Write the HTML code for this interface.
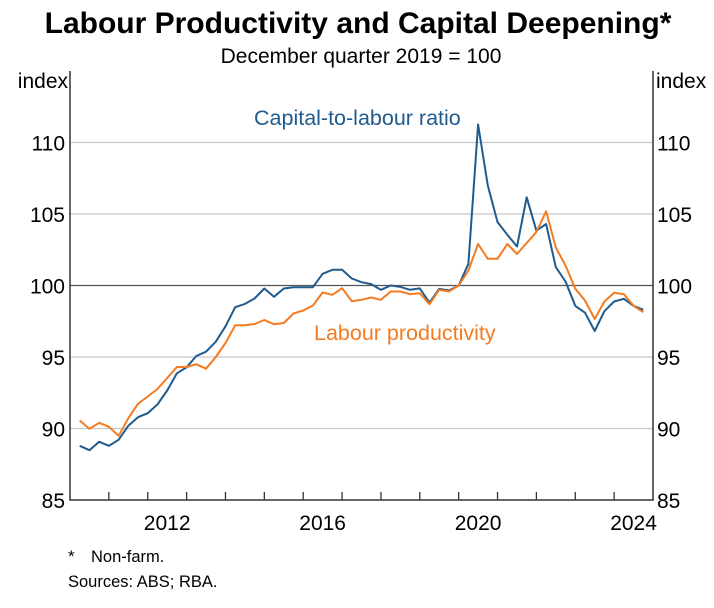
<!DOCTYPE html>
<html><head><meta charset="utf-8"><style>
body{margin:0;background:#fff;font-family:"Liberation Sans",Arial,sans-serif}
svg text{font-family:"Liberation Sans",Arial,sans-serif}
</style></head><body>
<svg id="c" width="714" height="603">
<text x="358" y="33" text-anchor="middle" font-size="30" font-weight="bold">Labour Productivity and Capital Deepening*</text>
<text x="361" y="63" text-anchor="middle" font-size="21">December quarter 2019 = 100</text>
<text x="68" y="88" text-anchor="end" font-size="21">index</text>
<text x="656" y="88" font-size="21">index</text>
<g id="grid"></g><g id="series"></g>
<text x="254" y="125" font-size="21.5" fill="#1f5b8e">Capital-to-labour ratio</text>
<text x="314" y="340" font-size="21.5" fill="#f47b20">Labour productivity</text>
<text x="68" y="562" font-size="17">*</text>
<text x="91" y="562" font-size="16.5">Non-farm.</text>
<text x="68" y="587" font-size="16.5">Sources: ABS; RBA.</text>
</svg>
<script>
const yTicks=[85,90,95,100,105,110];
const xLabels=[2012,2016,2020,2024];
const capital=[88.79,88.48,89.07,88.79,89.21,90.19,90.79,91.07,91.68,92.66,93.86,94.28,95.07,95.37,96.07,97.15,98.48,98.71,99.09,99.79,99.21,99.79,99.88,99.88,99.88,100.82,101.1,101.1,100.49,100.23,100.1,99.7,100.0,99.9,99.7,99.8,98.8,99.77,99.65,100,101.52,111.26,106.99,104.44,103.55,102.73,106.17,103.83,104.3,101.29,100.28,98.57,98.1,96.82,98.2,98.88,99.07,98.57,98.3];
const productivity=[90.56,89.98,90.4,90.12,89.49,90.72,91.73,92.24,92.76,93.53,94.3,94.3,94.49,94.18,95.0,95.98,97.22,97.22,97.31,97.59,97.29,97.38,98.04,98.25,98.6,99.51,99.35,99.81,98.9,99.0,99.16,99.0,99.58,99.58,99.39,99.46,98.69,99.7,99.58,100,101.05,102.9,101.87,101.87,102.9,102.2,102.97,103.74,105.19,102.66,101.4,99.77,98.95,97.66,98.88,99.49,99.39,98.57,98.13];
const L=70,R=653,T=71,B=500;
const x=t=>L+(t-2010)/15*(R-L);
const y=v=>B-(v-85)/30*(B-T);
const NS="http://www.w3.org/2000/svg";
function mk(tag,a,p){const e=document.createElementNS(NS,tag);for(const k in a)e.setAttribute(k,a[k]);p.appendChild(e);return e;}
const g=document.getElementById('grid'),s=document.getElementById('series');
yTicks.forEach(v=>{
 if(v>85){const ln=mk('line',{x1:L,x2:R,y1:y(v),y2:y(v),stroke:v===100?'#555':'#c8c8c8','stroke-width':1.3},g);
 
 }
 const a=mk('text',{x:L-5,y:y(v)+8,'text-anchor':'end','font-size':21},g);a.textContent=v;
 
 
 const b=mk('text',{x:R+4,y:y(v)+8,'font-size':21},g);b.textContent=v;
 
 
});
for(let yr=2011;yr<=2024;yr++){const t=mk('line',{x1:x(yr),x2:x(yr),y1:B,y2:B-8,stroke:'#333','stroke-width':1.3},g);
 
 }
xLabels.forEach(yr=>{const t=mk('text',{x:x(yr+0.5),y:B+30,'text-anchor':'middle','font-size':21},g);t.textContent=yr;
 
 });
const ax=mk('path',{d:`M${L},${T}V${B}H${R}V${T}`,fill:'none',stroke:'#333','stroke-width':1.5},g);


function line(d,col,name){const pts=d.map((v,i)=>x(2010.25+i*0.25).toFixed(1)+','+y(v).toFixed(1)).join(' ');
 const p=mk('polyline',{points:pts,fill:'none',stroke:col,'stroke-width':2,'stroke-linejoin':'round'},s);
 
 }
line(capital,'#1f5b8e','capital-to-labour-line');
line(productivity,'#f47b20','labour-productivity-line');
</script>
</body></html>
